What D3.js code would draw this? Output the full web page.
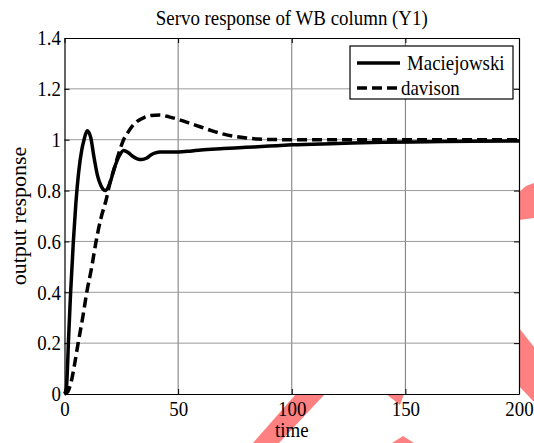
<!DOCTYPE html>
<html>
<head>
<meta charset="utf-8">
<script src="https://cdn.jsdelivr.net/npm/d3@7"></script>
<style>
  body { margin: 0; background: #fff; }
  svg text { font-family: "Liberation Serif", "Times New Roman", serif; fill: #000; }
</style>
</head>
<body>
<div id="chart"></div>
<script>
// data
const macTime = [0, 0.8, 1.3, 1.7, 2.7, 3.9, 5, 6.2, 7.6, 8.6, 10, 11.5, 13, 14.5, 16, 18, 20, 22, 24, 26, 28, 30, 32, 34, 36, 38, 40, 42, 50, 55, 60, 70, 80, 90, 100, 120, 140, 160, 180, 200];
const macValues = [0, 0.02, 0.1, 0.2, 0.4, 0.6, 0.75, 0.87, 0.96, 1.0, 1.035, 1.01, 0.93, 0.86, 0.82, 0.80, 0.83, 0.89, 0.935, 0.958, 0.95, 0.935, 0.925, 0.922, 0.927, 0.94, 0.948, 0.952, 0.952, 0.955, 0.96, 0.965, 0.97, 0.975, 0.98, 0.985, 0.99, 0.992, 0.994, 0.995];

const davTime = [0, 1.5, 3, 4.5, 6, 8, 9.8, 12, 13.9, 16, 18.3, 20, 22, 24, 26, 28, 30, 32, 35, 38, 42, 46, 51, 55, 60, 65, 70, 75, 80, 85, 90, 100, 150, 200];
const davValues = [0, 0.01, 0.05, 0.12, 0.2, 0.3, 0.4, 0.5, 0.6, 0.69, 0.763, 0.83, 0.89, 0.95, 1.0, 1.03, 1.055, 1.072, 1.087, 1.095, 1.097, 1.09, 1.077, 1.065, 1.05, 1.035, 1.022, 1.013, 1.007, 1.003, 1.001, 1.0, 1.0, 1.0];

const xTicks = [0, 50, 100, 150, 200];
const yTicks = [0, 0.2, 0.4, 0.6, 0.8, 1, 1.2, 1.4];
const seriesNames = ["Maciejowski", "davison"];

// faint red blotches behind the figure (scan artefacts in the original)
const blotches = [
  [[296, 394], [325, 394], [279, 443], [253, 443]],
  [[386, 394], [404, 394], [400, 405]],
  [[403, 436], [414, 443], [392, 443]],
  [[519, 192], [526, 186], [534, 183], [534, 218], [519, 220]],
  [[519, 328], [534, 347], [534, 402], [519, 386]]
];

const W = 534, H = 443;
const margin = { top: 38, right: 15, bottom: 49, left: 64.5 };
const fontSize = 21;
const serif = '"Liberation Serif", "Times New Roman", serif';
const squeeze = "scale(0.9,1)"; // the original figure is a bit narrowed

const svg = d3.select("#chart").append("svg")
  .attr("width", W)
  .attr("height", H);

svg.selectAll("polygon.blot")
  .data(blotches)
  .enter().append("polygon")
  .attr("class", "blot")
  .attr("points", d => d.map(p => p.join(",")).join(" "))
  .attr("fill", "#ff8080");

const x = d3.scaleLinear().domain([0, 200]).range([margin.left, W - margin.right]);
const y = d3.scaleLinear().domain([0, 1.4]).range([H - margin.bottom, margin.top]);

// plot background
svg.append("rect")
  .attr("x", x(0)).attr("y", y(1.4))
  .attr("width", x(200) - x(0)).attr("height", y(0) - y(1.4))
  .attr("fill", "#fff");

// grid
svg.append("g").selectAll("line")
  .data(xTicks.slice(1, -1))
  .enter().append("line")
  .attr("x1", d => x(d)).attr("x2", d => x(d))
  .attr("y1", y(0)).attr("y2", y(1.4))
  .attr("stroke", "#666").attr("stroke-width", 0.9);

svg.append("g").selectAll("line")
  .data(yTicks.slice(1, -1))
  .enter().append("line")
  .attr("x1", x(0)).attr("x2", x(200))
  .attr("y1", d => y(d)).attr("y2", d => y(d))
  .attr("stroke", "#999").attr("stroke-width", 1);

// axes, ticks pointing inward
const fmt = d => d3.format("")(+d.toFixed(1));
const xAxis = svg.append("g")
  .attr("transform", `translate(0,${y(0)})`)
  .call(d3.axisBottom(x).tickValues(xTicks).tickSizeInner(-5).tickSizeOuter(0).tickPadding(7).tickFormat(fmt));
const xAxisTop = svg.append("g")
  .attr("transform", `translate(0,${y(1.4)})`)
  .call(d3.axisTop(x).tickValues(xTicks).tickSizeInner(-5).tickSizeOuter(0).tickFormat(""));
const yAxis = svg.append("g")
  .attr("transform", `translate(${x(0)},0)`)
  .call(d3.axisLeft(y).tickValues(yTicks).tickSizeInner(-5).tickSizeOuter(0).tickPadding(4).tickFormat(fmt));
const yAxisRight = svg.append("g")
  .attr("transform", `translate(${x(200)},0)`)
  .call(d3.axisRight(y).tickValues(yTicks).tickSizeInner(-5).tickSizeOuter(0).tickFormat(""));

[xAxis, xAxisTop, yAxis, yAxisRight].forEach(g => {
  g.attr("font-family", serif).attr("font-size", fontSize);
  g.select(".domain").attr("stroke", "#000").attr("stroke-width", 1.2);
  g.selectAll(".tick line").attr("stroke", "#000");
  g.selectAll("text")
    .style("font-family", serif)
    .style("font-size", fontSize + "px")
    .attr("transform", squeeze);
});

// curves
const line = d3.line()
  .x(d => x(d[0]))
  .y(d => y(d[1]))
  .curve(d3.curveMonotoneX);

const macData = macTime.map((t, i) => [t, macValues[i]]);
const davData = davTime.map((t, i) => [t, davValues[i]]);

svg.append("path")
  .datum(davData)
  .attr("d", line)
  .attr("fill", "none")
  .attr("stroke", "#000")
  .attr("stroke-width", 3.5)
  .attr("stroke-dasharray", "10,5");

svg.append("path")
  .datum(macData)
  .attr("d", line)
  .attr("fill", "none")
  .attr("stroke", "#000")
  .attr("stroke-width", 3.5);

// titles
svg.append("text")
  .attr("transform", `translate(${(x(0) + x(200)) / 2},25) ${squeeze}`)
  .attr("text-anchor", "middle")
  .attr("font-size", fontSize)
  .text("Servo response of WB column (Y1)");

svg.append("text")
  .attr("transform", `translate(${(x(0) + x(200)) / 2},437) ${squeeze}`)
  .attr("text-anchor", "middle")
  .attr("font-size", fontSize)
  .text("time");

svg.append("text")
  .attr("transform", `translate(26,${(y(0) + y(1.4)) / 2}) rotate(-90)`)
  .attr("text-anchor", "middle")
  .attr("font-size", 22)
  .text("output response");

// legend
const legend = svg.append("g");
legend.append("rect")
  .attr("x", 350).attr("y", 46)
  .attr("width", 163).attr("height", 53)
  .attr("fill", "#fff")
  .attr("stroke", "#000")
  .attr("stroke-width", 1.2);

const legendRows = legend.selectAll("g.row")
  .data(seriesNames)
  .enter().append("g")
  .attr("class", "row")
  .attr("transform", (d, i) => `translate(0,${63 + i * 25})`);

legendRows.append("line")
  .attr("x1", 357).attr("x2", 400)
  .attr("y1", 0).attr("y2", 0)
  .attr("stroke", "#000")
  .attr("stroke-width", 3.5)
  .attr("stroke-dasharray", (d, i) => i ? "10,5" : null);

legendRows.append("text")
  .attr("transform", (d, i) => `translate(${i ? 401 : 407},7) ${squeeze}`)
  .attr("font-size", fontSize)
  .text(d => d);
</script>
</body>
</html>
